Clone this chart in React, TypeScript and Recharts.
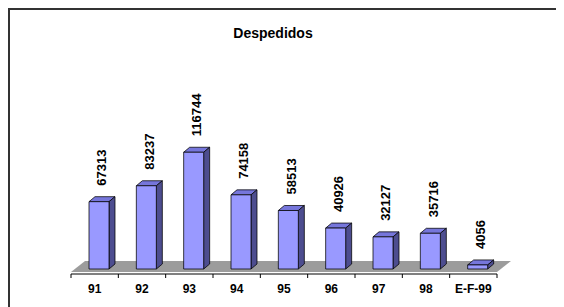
import { BarChart, Bar, XAxis, YAxis, ReferenceArea, LabelList } from 'recharts';

const categories = ['91', '92', '93', '94', '95', '96', '97', '98', 'E-F-99'];
const despedidos = [67313, 83237, 116744, 74158, 58513, 40926, 32127, 35716, 4056];

const data = categories.map((anio, i) => ({ anio, despedidos: despedidos[i] }));

const FONT = 'Arial, "Liberation Sans", Helvetica, sans-serif';
const SHIFT = 4; // bars sit a bit right of centre (3D perspective)
const DX = 6;
const DY = 5;

const Bar3D = (props: any) => {
  const { x, y, width, height } = props;
  const fx = x + SHIFT;
  const w = width;
  return (
    <g stroke="#000" strokeWidth={0.75} strokeLinejoin="round">
      <polygon
        points={`${fx},${y} ${fx + DX},${y - DY} ${fx + w + DX},${y - DY} ${fx + w},${y}`}
        fill="#7676DB"
      />
      <polygon
        points={`${fx + w},${y} ${fx + w + DX},${y - DY} ${fx + w + DX},${y + height - DY} ${fx + w},${y + height}`}
        fill="#4D4D8F"
      />
      <rect x={fx} y={y} width={w} height={height} fill="#9999FF" />
    </g>
  );
};

const ValueLabel = (props: any) => {
  const { x, y, width, value } = props;
  const cx = x + SHIFT + (width + DX) / 2;
  const ty = y - 16;
  return (
    <text
      x={cx}
      y={ty}
      transform={`rotate(-90, ${cx}, ${ty})`}
      textAnchor="start"
      dominantBaseline="central"
      fontFamily={FONT}
      fontWeight="bold"
      fontSize={13}
      fill="#000"
    >
      {value}
    </text>
  );
};

const Floor = (props: any) => {
  const { x, y, width, height } = props;
  const front = y + height - 2;
  const back = front - 11;
  const bottom = y + height;
  const step = width / categories.length;
  return (
    <g>
      <polygon
        points={`${x},${front} ${x + 14},${back} ${x + width + 14},${back} ${x + width},${front}`}
        fill="#9C9C9C"
      />
      {Array.from({ length: categories.length + 1 }).map((_, i) => (
        <line
          key={i}
          x1={x + i * step}
          x2={x + i * step}
          y1={bottom}
          y2={bottom + 4}
          stroke="#000"
          strokeWidth={1}
        />
      ))}
    </g>
  );
};

export default function App() {
  return (
    <div
      style={{
        position: 'relative',
        width: 556,
        height: 299,
        boxSizing: 'border-box',
        borderLeft: '2px solid #333',
        borderTop: '2px solid #333',
        overflow: 'hidden',
      }}
    >
      <div
        style={{
          position: 'absolute',
          left: 263,
          top: 15,
          transform: 'translateX(-50%)',
          fontFamily: FONT,
          fontWeight: 'bold',
          fontSize: 14,
          lineHeight: '16px',
          color: '#000',
          whiteSpace: 'nowrap',
        }}
      >
        Despedidos
      </div>
      <BarChart
        width={554}
        height={297}
        data={data}
        margin={{ top: 124, right: 67, left: 61, bottom: 3 }}
        barSize={20}
      >
        <XAxis
          dataKey="anio"
          axisLine={{ stroke: '#000', strokeWidth: 1 }}
          tickLine={false}
          tickMargin={4}
          interval={0}
          tick={{ fontSize: 12, fontWeight: 'bold', fill: '#000', fontFamily: FONT }}
        />
        <YAxis hide type="number" domain={[-5000, 135000]} />
        <ReferenceArea y1={-5000} y2={0} ifOverflow="visible" shape={Floor} />
        <Bar dataKey="despedidos" shape={Bar3D} isAnimationActive={false}>
          <LabelList dataKey="despedidos" content={ValueLabel} />
        </Bar>
      </BarChart>
    </div>
  );
}
